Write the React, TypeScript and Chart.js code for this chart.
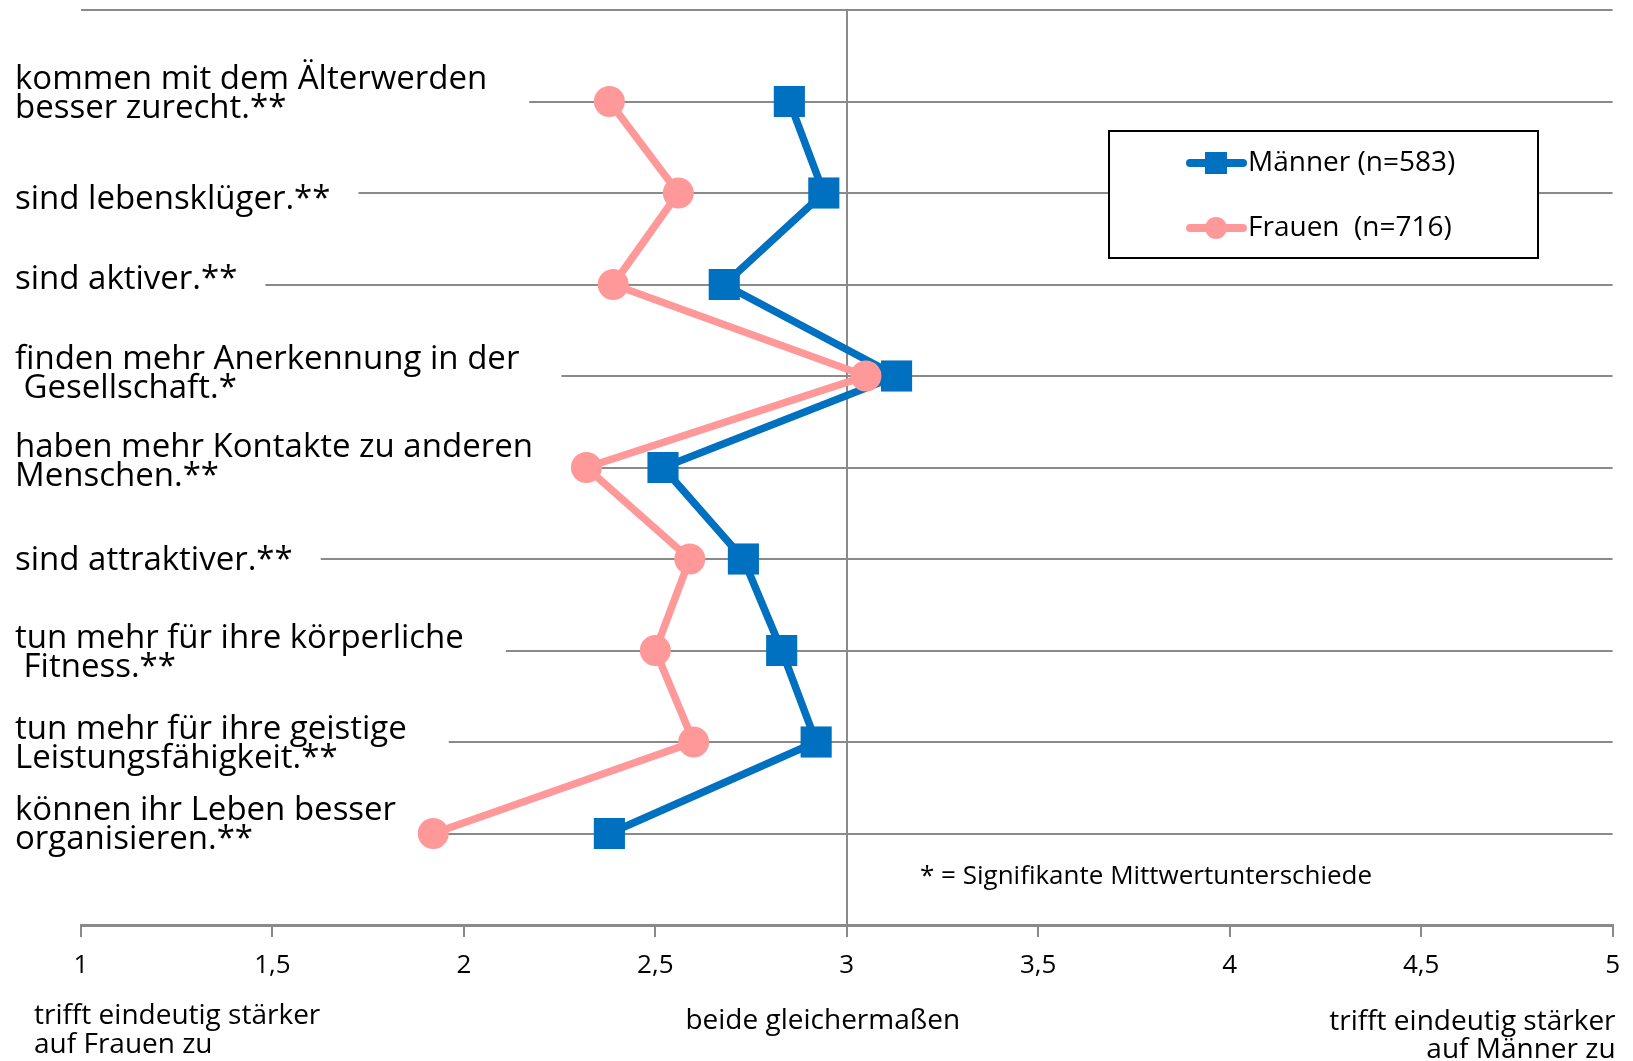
import React, { useEffect, useRef } from "react";
import { Chart, registerables } from "chart.js";

Chart.register(...registerables);

// ---- Data ----
const categories: string[][] = [
  ["kommen mit dem Älterwerden", "besser zurecht.**"],
  ["sind lebensklüger.**"],
  ["sind aktiver.**"],
  ["finden mehr Anerkennung in der", " Gesellschaft.*"],
  ["haben mehr Kontakte zu anderen", "Menschen.**"],
  ["sind attraktiver.**"],
  ["tun mehr für ihre körperliche", " Fitness.**"],
  ["tun mehr für ihre geistige", "Leistungsfähigkeit.**"],
  ["können ihr Leben besser", "organisieren.**"],
];

const maenner = [2.85, 2.94, 2.68, 3.13, 2.52, 2.73, 2.83, 2.92, 2.38];
const frauen = [2.38, 2.56, 2.39, 3.05, 2.32, 2.59, 2.5, 2.6, 1.92];

const seriesLabels = ["Männer (n=583)", "Frauen  (n=716)"];

const xMin = 1;
const xMax = 5;
const xStep = 0.5;

const noteLeft = ["trifft eindeutig stärker", "auf Frauen zu"];
const noteCenter = ["beide gleichermaßen"];
const noteRight = ["trifft eindeutig stärker", "auf Männer zu"];
const footnote = "* = Signifikante Mittwertunterschiede";

// ---- Styling ----
const BLUE = "#0070C0";
const PINK = "#FF9999";
const GRID = "#8a8a8a";
const FONT = "'Open Sans', 'Noto Sans', sans-serif";
// first-line vertical offset of each category label relative to its grid line
const labelShift = [-22, 7, -5, -16, -20, 2, -12, -12, -23];
const LINE_GAP = 29;

const labelPlugin = {
  id: "categoryLabels",
  beforeDatasetsDraw(chart: any) {
    const ctx = chart.ctx;
    const y = chart.scales.y;
    ctx.save();
    ctx.font = `33px ${FONT}`;
    ctx.textBaseline = "middle";
    ctx.textAlign = "left";
    categories.forEach((lines, i) => {
      const gy = y.getPixelForValue(i + 1);
      let maxW = 0;
      lines.forEach((l) => (maxW = Math.max(maxW, ctx.measureText(l).width)));
      const endX = 15 + maxW + (lines.length > 1 ? 42 : 28);
      ctx.fillStyle = "#ffffff";
      ctx.fillRect(0, gy - 3, endX, 6);
      ctx.fillStyle = "#000000";
      lines.forEach((l, k) => {
        ctx.fillText(l, 15, gy + labelShift[i] + k * LINE_GAP);
      });
    });
    ctx.restore();
  },
  afterDraw(chart: any) {
    const ctx = chart.ctx;
    const area = chart.chartArea;
    const xs = chart.scales.x;
    ctx.save();
    ctx.fillStyle = "#000000";
    ctx.textBaseline = "middle";

    // bottom notes
    ctx.font = `28px ${FONT}`;
    ctx.textAlign = "left";
    noteLeft.forEach((l, k) => ctx.fillText(l, 34, 1016 + k * 29));
    ctx.textAlign = "center";
    noteCenter.forEach((l, k) => ctx.fillText(l, xs.getPixelForValue(3) - 24, 1021 + k * 29));
    ctx.textAlign = "right";
    noteRight.forEach((l, k) => ctx.fillText(l, area.right + 3, 1022 + k * 28));

    // footnote
    ctx.font = `26px ${FONT}`;
    ctx.textAlign = "left";
    ctx.fillText(footnote, 920, 877);

    // legend
    const bx = 1109, by = 131, bw = 429, bh = 127;
    ctx.fillStyle = "#ffffff";
    ctx.fillRect(bx, by, bw, bh);
    ctx.strokeStyle = "#000000";
    ctx.lineWidth = 2;
    ctx.strokeRect(bx, by, bw, bh);
    const rows = [163, 228];
    chart.data.datasets.forEach((ds: any, i: number) => {
      const ry = rows[i];
      ctx.strokeStyle = ds.borderColor;
      ctx.lineWidth = 8;
      ctx.lineCap = "round";
      ctx.beginPath();
      ctx.moveTo(1190, ry);
      ctx.lineTo(1243, ry);
      ctx.stroke();
      ctx.fillStyle = ds.backgroundColor;
      if (ds.pointStyle === "rect") {
        ctx.fillRect(1216 - 11, ry - 11, 22, 22);
      } else {
        ctx.beginPath();
        ctx.arc(1216, ry, 11, 0, Math.PI * 2);
        ctx.fill();
      }
      ctx.fillStyle = "#000000";
      ctx.font = `28px ${FONT}`;
      ctx.textAlign = "left";
      ctx.fillText(ds.label, 1248, ry);
    });
    ctx.restore();
  },
};

export default function App() {
  const ref = useRef<HTMLCanvasElement | null>(null);

  useEffect(() => {
    document.body.style.margin = "0";
    const canvas = ref.current;
    if (!canvas) return;
    const chart = new Chart(canvas, {
      type: "line",
      data: {
        datasets: [
          {
            label: seriesLabels[0],
            data: maenner.map((v, i) => ({ x: v, y: i + 1 })),
            borderColor: BLUE,
            backgroundColor: BLUE,
            borderWidth: 7.5,
            pointStyle: "rect",
            pointRadius: 22,
            pointBackgroundColor: BLUE,
            pointBorderColor: BLUE,
            pointBorderWidth: 0,
            tension: 0,
            clip: false,
            order: 1,
          },
          {
            label: seriesLabels[1],
            data: frauen.map((v, i) => ({ x: v, y: i + 1 })),
            borderColor: PINK,
            backgroundColor: PINK,
            borderWidth: 7.5,
            pointStyle: "circle",
            pointRadius: 15.5,
            pointBackgroundColor: PINK,
            pointBorderColor: PINK,
            pointBorderWidth: 0,
            tension: 0,
            clip: false,
            order: 0,
          },
        ],
      },
      options: {
        responsive: false,
        animation: false,
        devicePixelRatio: 1,
        layout: { autoPadding: false, padding: { left: 81, right: 17, top: 10, bottom: 0 } },
        plugins: {
          legend: { display: false },
          tooltip: { enabled: false },
        },
        scales: {
          x: {
            type: "linear",
            min: xMin,
            max: xMax,
            position: "bottom",
            afterFit: (s: any) => {
              s.height = 136;
            },
            ticks: {
              stepSize: xStep,
              color: "#000000",
              font: { family: FONT, size: 26 },
              padding: 13,
              callback: (v: any) => String(v).replace(".", ","),
            },
            grid: {
              color: (c: any) => (c.tick && c.tick.value === 3 ? GRID : "rgba(0,0,0,0)"),
              tickColor: GRID,
              lineWidth: 2,
              tickLength: 12,
              drawTicks: true,
            },
            border: { display: true, color: GRID, width: 3 },
          },
          y: {
            type: "linear",
            min: 0,
            max: 10,
            reverse: true,
            afterFit: (s: any) => {
              s.width = 0;
            },
            ticks: { stepSize: 1, display: false },
            grid: { color: GRID, lineWidth: 2, drawTicks: false },
            border: { display: false },
          },
        },
      },
      plugins: [labelPlugin],
    } as any);
    return () => chart.destroy();
  }, []);

  return (
    <canvas
      ref={ref}
      width={1633}
      height={1061}
      style={{ display: "block", width: 1633, height: 1061 }}
    />
  );
}
